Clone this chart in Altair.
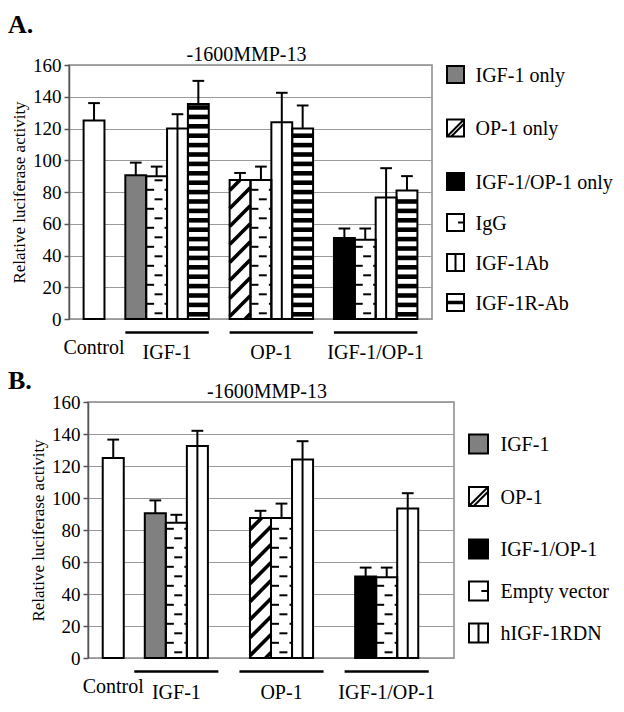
import altair as alt
import pandas as pd

FONT = "Liberation Serif"

# ---------------- Panel A data ----------------
A_GROUPS = ["IGF-1", "OP-1", "IGF-1/OP-1"]
A_SERIES = ["IGF-1 only", "OP-1 only", "IGF-1/OP-1 only", "IgG", "IGF-1Ab", "IGF-1R-Ab"]
A_PATTERNS = ["gray", "diag", "black", "dash", "vline", "hstripe"]
A_CONTROL = [125]
A_CONTROL_ERR = [11]
A_TREATMENT = [90.5, 87.5, 51]
A_TREATMENT_ERR = [8, 4.5, 6]
A_IGG = [90, 87.5, 50]
A_IGG_ERR = [6, 8.5, 7]
A_IGF1AB = [120, 124, 76.5]
A_IGF1AB_ERR = [9, 18.5, 18.5]
A_IGF1RAB = [135.5, 120, 81]
A_IGF1RAB_ERR = [14.5, 14.5, 9]

# ---------------- Panel B data ----------------
B_GROUPS = ["IGF-1", "OP-1", "IGF-1/OP-1"]
B_SERIES = ["IGF-1", "OP-1", "IGF-1/OP-1", "Empty vector", "hIGF-1RDN"]
B_PATTERNS = ["gray", "diag", "black", "dash", "vline"]
B_CONTROL = [125]
B_CONTROL_ERR = [11.5]
B_TREATMENT = [90.5, 87.5, 51]
B_TREATMENT_ERR = [8, 4.5, 5.5]
B_EMPTY = [84.5, 87.5, 50.5]
B_EMPTY_ERR = [5, 9, 6]
B_DN = [132.5, 124, 93.5]
B_DN_ERR = [9.5, 11.5, 9.5]

TITLE = "-1600MMP-13"
Y_TITLE = "Relative luciferase activity"

SQUARE = "M-1,-1H1V1H-1Z"
SHAPES = {
    "gray": SQUARE,
    "black": SQUARE,
    "plain": SQUARE,
    "diag": SQUARE + "M-1,1L1,-1M-0.5,1L1,-0.5",
    "dash": SQUARE + "M1,0H0.3",
    "vline": SQUARE + "M0,-1V1",
    "hstripe": SQUARE + "M-1,-0.08H1M-1,0.08H1",
}
FILLS = {"gray": "#808080", "black": "#000000"}


def panel(groups, series, patterns, control, control_err, treat, treat_err, extras,
          W, H, leg_x, leg_ranges, sym_size, label_gap):
    rows = [dict(slot=0, value=control[0], err=control_err[0], s="Control", pattern="plain")]
    ng = len(groups)
    for g in range(ng):
        base = 2 + 5 * g
        rows.append(dict(slot=base, value=treat[g], err=treat_err[g], s=series[g], pattern=patterns[g]))
        for j, (vals, errs) in enumerate(extras):
            rows.append(dict(slot=base + 1 + j, value=vals[g], err=errs[g],
                             s=series[ng + j], pattern=patterns[ng + j]))
    df = pd.DataFrame(rows)
    df["x0"] = df["slot"] - 0.5
    df["x1"] = df["slot"] + 0.5
    df["top"] = df["value"] + df["err"]
    df["c0"] = df["slot"] - 0.28
    df["c1"] = df["slot"] + 0.28

    px_slot = W / 17.4
    px_unit = H / 160.0

    hs = []
    for _, r in df[df.pattern == "hstripe"].iterrows():
        per = 9.4 / px_unit
        y = per * 0.5
        while y + 2.3 / px_unit < r.value - 1.0 / px_unit:
            hs.append(dict(a=r.x0, b=r.x1, y=y))
            y += per
    hs = pd.DataFrame(hs, columns=["a", "b", "y"])

    ds = []
    k = px_slot / px_unit
    for _, r in df[df.pattern == "diag"].iterrows():
        per = 18.0 / px_unit
        b = -k + per * 0.3
        while b < r.value:
            t0 = max(0.0, -b / k)
            t1 = min(1.0, (r.value - b) / k)
            if t1 - t0 > 0.03:
                ds.append(dict(xa=r.x0 + t0, ya=b + k * t0, xb=r.x0 + t1, yb=b + k * t1))
            b += per
    ds = pd.DataFrame(ds, columns=["xa", "ya", "xb", "yb"])

    dd = []
    for _, r in df[df.pattern == "dash"].iterrows():
        per = 9.5 / px_unit
        y = per * 0.6
        i = 0
        while y < r.value - 2.5 / px_unit:
            if i % 2 == 0:
                dd.append(dict(a=r.x0 + 0.40, b=r.x0 + 0.78, y=y))
            else:
                dd.append(dict(a=r.x0 + 0.04, b=r.x0 + 0.38, y=y))
                dd.append(dict(a=r.x0 + 0.88, b=r.x1 - 0.02, y=y))
            y += per
            i += 1
    dd = pd.DataFrame(dd, columns=["a", "b", "y"])

    vl = df[df.pattern == "vline"]

    nb = 1 + len(extras)
    lab = pd.DataFrame(dict(label=groups,
                            c=[2 + 5 * g + (nb - 1) / 2 for g in range(ng)]))
    lab["u0"] = lab["c"] - 2
    lab["u1"] = lab["c"] + 2
    ctrl = pd.DataFrame(dict(label=["Control"], c=[0]))

    xs = alt.Scale(domain=[-1.2, 16.2], nice=False, zero=False, padding=0)
    ys = alt.Scale(domain=[0, 160], nice=False, padding=0)
    yaxis = alt.Axis(values=list(range(0, 161, 20)), title=Y_TITLE,
                     titleFont=FONT, titleFontSize=17, titleFontWeight="normal",
                     titleColor="black", titlePadding=4,
                     labelFont=FONT, labelFontSize=19, labelColor="black", labelPadding=3,
                     domainColor="#555555", domainWidth=1.5,
                     tickColor="#555555", tickWidth=1.5, tickSize=5,
                     grid=True, gridColor="#9a9a9a", gridWidth=1)

    def X(f):
        return alt.X(f, type="quantitative", scale=xs, axis=None)

    def Y(f):
        return alt.Y(f, type="quantitative", scale=ys, axis=yaxis, title=Y_TITLE)

    def YD(v):
        return alt.YDatum(v, type="quantitative", scale=ys, axis=yaxis, title=Y_TITLE)

    dom = series + ["Control"]
    pats = patterns + ["plain"]
    fill_scale = alt.Scale(domain=dom, range=[FILLS.get(p, "#ffffff") for p in pats])

    base = alt.Chart(df)
    layers = [base.mark_bar(strokeWidth=0).encode(
        x=X("x0"), x2="x1", y=Y("value"), y2=alt.datum(0),
        fill=alt.Fill("s:N", scale=fill_scale, legend=None))]
    if len(hs):
        layers.append(alt.Chart(hs).mark_rule(color="black", strokeWidth=4.6).encode(
            x=X("a"), x2="b", y=Y("y")))
    if len(ds):
        layers.append(alt.Chart(ds).mark_rule(color="black", strokeWidth=3.6).encode(
            x=X("xa"), x2="xb", y=Y("ya"), y2="yb"))
    if len(dd):
        layers.append(alt.Chart(dd).mark_rule(color="black", strokeWidth=2).encode(
            x=X("a"), x2="b", y=Y("y")))
    if len(vl):
        layers.append(alt.Chart(vl).mark_rule(color="black", strokeWidth=2).encode(
            x=X("slot"), y=Y("value"), y2=alt.datum(0)))
    layers += [
        base.mark_bar(fillOpacity=0, stroke="black", strokeWidth=2).encode(
            x=X("x0"), x2="x1", y=Y("value"), y2=alt.datum(0)),
        base.mark_rule(color="black", strokeWidth=2).encode(
            x=X("slot"), y=Y("value"), y2="top"),
        base.mark_rule(color="black", strokeWidth=2).encode(
            x=X("c0"), x2="c1", y=Y("top")),
        alt.Chart(lab).mark_rule(color="black", strokeWidth=2.5).encode(
            x=X("u0"), x2="u1", y=YD(-8.5)),
        alt.Chart(lab).mark_text(font=FONT, fontSize=20, color="black",
                                 baseline="alphabetic").encode(
            x=X("c"), y=YD(-25.5), text="label:N"),
        alt.Chart(ctrl).mark_text(font=FONT, fontSize=20, color="black",
                                  baseline="alphabetic").encode(
            x=X("c"), y=YD(-22), text="label:N"),
    ]
    plot = alt.layer(*layers)

    # custom legend (pattern swatches), two blocks with their own row spacing
    leg = pd.DataFrame(dict(s=series, p=patterns))
    leg_fill = alt.Scale(domain=series, range=[FILLS.get(p, "#ffffff") for p in patterns])
    leg_shape = alt.Scale(domain=series, range=[SHAPES[p] for p in patterns])
    extra_layers = []
    start = 0
    for n, rng in leg_ranges:
        part = series[start:start + n]
        start += n
        ysc = alt.Scale(type="point", domain=part, range=rng, padding=0)
        src = alt.Chart(leg).transform_filter(alt.FieldOneOfPredicate(field="s", oneOf=part))
        sym = src.mark_point(filled=True, size=sym_size, stroke="black", strokeWidth=2,
                             opacity=1).encode(
            x=alt.value(leg_x),
            y=alt.Y("s:N", scale=ysc, axis=None),
            fill=alt.Fill("s:N", scale=leg_fill, legend=None),
            shape=alt.Shape("s:N", scale=leg_shape, legend=None))
        txt = src.mark_text(font=FONT, fontSize=20, color="black", align="left",
                            baseline="middle", dy=1).encode(
            x=alt.value(leg_x + label_gap),
            y=alt.Y("s:N", scale=ysc, axis=None),
            text="s:N")
        extra_layers.append(alt.layer(sym, txt))

    return alt.layer(plot, *extra_layers).resolve_scale(
        y="independent", fill="independent", shape="independent"
    ).properties(
        width=W, height=H,
        title=alt.Title(TITLE, font=FONT, fontSize=20, fontWeight="normal",
                        color="black", anchor="middle", frame="group", offset=-9, dx=-4))


def spacer():
    # empty 1px cell used only to fix the horizontal origin of a panel
    return alt.Chart(pd.DataFrame({"v": [0]})).transform_filter("false").mark_point(
        opacity=0).properties(
        width=1, height=1, view=alt.ViewBackground(stroke="transparent", strokeWidth=0))


pA = panel(A_GROUPS, A_SERIES, A_PATTERNS, A_CONTROL, A_CONTROL_ERR,
           A_TREATMENT, A_TREATMENT_ERR,
           [(A_IGG, A_IGG_ERR), (A_IGF1AB, A_IGF1AB_ERR), (A_IGF1RAB, A_IGF1RAB_ERR)],
           363, 254, 386.5, [(3, [9.5, 116.5]), (3, [157.5, 237.5])], 289, 20)
pB = panel(B_GROUPS, B_SERIES, B_PATTERNS, B_CONTROL, B_CONTROL_ERR,
           B_TREATMENT, B_TREATMENT_ERR,
           [(B_EMPTY, B_EMPTY_ERR), (B_DN, B_DN_ERR)],
           366, 256, 390.5, [(3, [42, 147]), (2, [189, 231])], 361, 22)

boxA = alt.hconcat(spacer(), pA, spacing=0).properties(
    title=alt.Title("A.", font=FONT, fontSize=26, fontWeight="bold", color="black",
                    anchor="start", offset=6))
boxB = alt.hconcat(spacer(), pB, spacing=19).properties(
    title=alt.Title("B.", font=FONT, fontSize=26, fontWeight="bold", color="black",
                    anchor="start", offset=-13))

chart = alt.vconcat(boxA, boxB, spacing=3).properties(
    padding={"left": 0, "top": 4, "right": 0, "bottom": 0}
).configure(font=FONT).configure_view(stroke="#8a8a8a", strokeWidth=1.5)

chart.save("out.html", embed_options={"renderer": "svg", "actions": False})
